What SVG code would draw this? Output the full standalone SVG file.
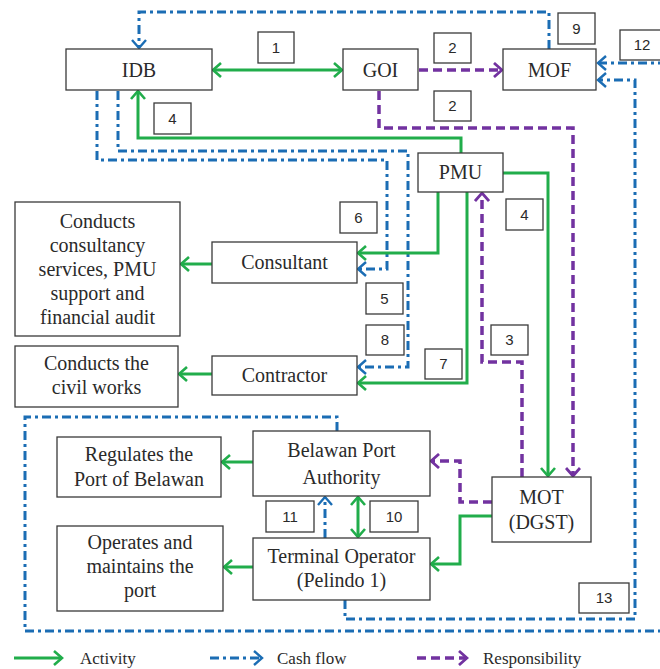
<svg xmlns="http://www.w3.org/2000/svg" width="660" height="669" viewBox="0 0 660 669">
<style>
.box{fill:#fff;stroke:#3a3a3a;stroke-width:1.3}
.t{font-family:'Liberation Serif','DejaVu Serif','Noto Serif',serif;font-size:20px;fill:#2a2a2a;text-anchor:middle}
.n{font-family:'Liberation Sans','DejaVu Sans',sans-serif;font-size:15px;fill:#2a2a2a;text-anchor:middle}
.lg{font-family:'Liberation Serif','DejaVu Serif','Noto Serif',serif;font-size:17px;fill:#2a2a2a}
.g{fill:none;stroke:#21ad4b;stroke-width:3;marker-end:url(#ag)}
.b{fill:none;stroke:#1b6db4;stroke-width:3;stroke-dasharray:9 4 3 4;marker-end:url(#ab)}
.p{fill:none;stroke:#7232a0;stroke-width:3.5;stroke-dasharray:9 5;marker-end:url(#ap)}
</style>
<defs>
<marker id="ag" markerUnits="userSpaceOnUse" viewBox="-1 -1 12 16" refX="9" refY="7" markerWidth="12" markerHeight="16" orient="auto-start-reverse"><path d="M1,0 L9,7 L1,14" fill="none" stroke="#21ad4b" stroke-width="2.6"/></marker>
<marker id="ab" markerUnits="userSpaceOnUse" viewBox="-1 -1 12 16" refX="9" refY="7" markerWidth="12" markerHeight="16" orient="auto-start-reverse"><path d="M1,0 L9,7 L1,14" fill="none" stroke="#1b6db4" stroke-width="2.4"/></marker>
<marker id="ap" markerUnits="userSpaceOnUse" viewBox="-1 -1 12 16" refX="9" refY="7" markerWidth="12" markerHeight="16" orient="auto-start-reverse"><path d="M1,0 L9,7 L1,14" fill="none" stroke="#7232a0" stroke-width="2.8"/></marker>
</defs>
<rect width="660" height="669" fill="#fff"/>

<g id="connectors">
<path class="b" d="M549,49 V12 H139 V48"/>
<path class="b" d="M97,91 V160 H387 V269 H358"/>
<path class="b" d="M118,91 V151 H408 V367 H358"/>
<path class="b" d="M345,600 V619 H635 V80 H598"/>
<path class="b" d="M337,431 V417 H25 V631 H672 V63 H598"/>
<path class="b" d="M325,538 V497"/>
<path class="p" d="M419,70 H502"/>
<path class="p" d="M379,91 V128 H573 V476"/>
<path class="p" d="M522,477 V362 H482 V193"/>
<path class="p" d="M492,502 H460 V461 H431"/>
<path class="g" d="M213,70 H342" style="marker-start:url(#ag)"/>
<path class="g" d="M461,153 V138 H138 V91"/>
<path class="g" d="M438,192 V253 H358"/>
<path class="g" d="M467,192 V383 H358"/>
<path class="g" d="M503,173 H548 V476"/>
<path class="g" d="M492,516 H460 V564 H431"/>
<path class="g" d="M358,497 V537" style="marker-start:url(#ag)"/>
<path class="g" d="M212,264 H181"/>
<path class="g" d="M212,374 H179"/>
<path class="g" d="M253,462 H222"/>
<path class="g" d="M253,567 H224"/>
</g>

<g id="idb"><rect class="box" x="66" y="49" width="146" height="41"/><text class="t" x="139" y="77">IDB</text></g>
<g id="goi"><rect class="box" x="343" y="49" width="75" height="41"/><text class="t" x="380.5" y="77">GOI</text></g>
<g id="mof"><rect class="box" x="503" y="49" width="93" height="41"/><text class="t" x="549.5" y="77">MOF</text></g>
<g id="pmu"><rect class="box" x="418" y="153" width="85" height="39"/><text class="t" x="460.5" y="179">PMU</text></g>
<g id="consultant"><rect class="box" x="212" y="242" width="145" height="41"/><text class="t" x="284.5" y="269">Consultant</text></g>
<g id="contractor"><rect class="box" x="212" y="356" width="145" height="39"/><text class="t" x="284.5" y="382">Contractor</text></g>
<g id="consultancy-task"><rect class="box" x="15" y="202" width="165" height="134"/>
<text class="t" x="97.5" y="228">Conducts</text><text class="t" x="97.5" y="252">consultancy</text><text class="t" x="97.5" y="276">services, PMU</text><text class="t" x="97.5" y="300">support and</text><text class="t" x="97.5" y="324">financial audit</text></g>
<g id="civil-task"><rect class="box" x="15" y="346" width="163" height="61"/>
<text class="t" x="96.5" y="370">Conducts the</text><text class="t" x="96.5" y="394">civil works</text></g>
<g id="bpa"><rect class="box" x="253" y="431" width="177" height="65"/>
<text class="t" x="341.5" y="457">Belawan Port</text><text class="t" x="341.5" y="484">Authority</text></g>
<g id="terminal"><rect class="box" x="253" y="538" width="177" height="62"/>
<text class="t" x="341.5" y="563">Terminal Operator</text><text class="t" x="341.5" y="587">(Pelindo 1)</text></g>
<g id="regulates"><rect class="box" x="57" y="437" width="164" height="60"/>
<text class="t" x="139" y="461">Regulates the</text><text class="t" x="139" y="486">Port of Belawan</text></g>
<g id="operates"><rect class="box" x="57" y="526" width="166" height="85"/>
<text class="t" x="140" y="549">Operates and</text><text class="t" x="140" y="573">maintains the</text><text class="t" x="140" y="597">port</text></g>
<g id="mot"><rect class="box" x="492" y="477" width="99" height="65"/>
<text class="t" x="541.5" y="504">MOT</text><text class="t" x="541.5" y="529">(DGST)</text></g>

<g id="labels">
<rect class="box" x="258" y="32" width="36" height="31"/><text class="n" x="276" y="53">1</text>
<rect class="box" x="434" y="33" width="37" height="30"/><text class="n" x="452.5" y="53">2</text>
<rect class="box" x="558" y="13" width="37" height="31"/><text class="n" x="576.5" y="34">9</text>
<rect class="box" x="620" y="30" width="50" height="30"/><text class="n" x="642" y="50">12</text>
<rect class="box" x="434" y="91" width="37" height="30"/><text class="n" x="452.5" y="111">2</text>
<rect class="box" x="154" y="103" width="37" height="31"/><text class="n" x="172.5" y="124">4</text>
<rect class="box" x="340" y="202" width="37" height="31"/><text class="n" x="358.5" y="223">6</text>
<rect class="box" x="506" y="199" width="37" height="31"/><text class="n" x="524.5" y="220">4</text>
<rect class="box" x="366" y="283" width="37" height="31"/><text class="n" x="384.5" y="304">5</text>
<rect class="box" x="366" y="325" width="38" height="30"/><text class="n" x="385" y="345">8</text>
<rect class="box" x="491" y="325" width="37" height="30"/><text class="n" x="509.5" y="345">3</text>
<rect class="box" x="425" y="349" width="37" height="30"/><text class="n" x="443.5" y="369">7</text>
<rect class="box" x="266" y="501" width="48" height="31"/><text class="n" x="290" y="522">11</text>
<rect class="box" x="370" y="501" width="48" height="31"/><text class="n" x="394" y="522">10</text>
<rect class="box" x="579" y="583" width="50" height="30"/><text class="n" x="604" y="603">13</text>
</g>

<g id="legend">
<path class="g" d="M14,658 H62"/><text class="lg" x="80" y="664">Activity</text>
<path class="b" d="M210,658 H262"/><text class="lg" x="277" y="664">Cash flow</text>
<path class="p" d="M417,658 H467"/><text class="lg" x="483" y="664">Responsibility</text>
</g>
</svg>
